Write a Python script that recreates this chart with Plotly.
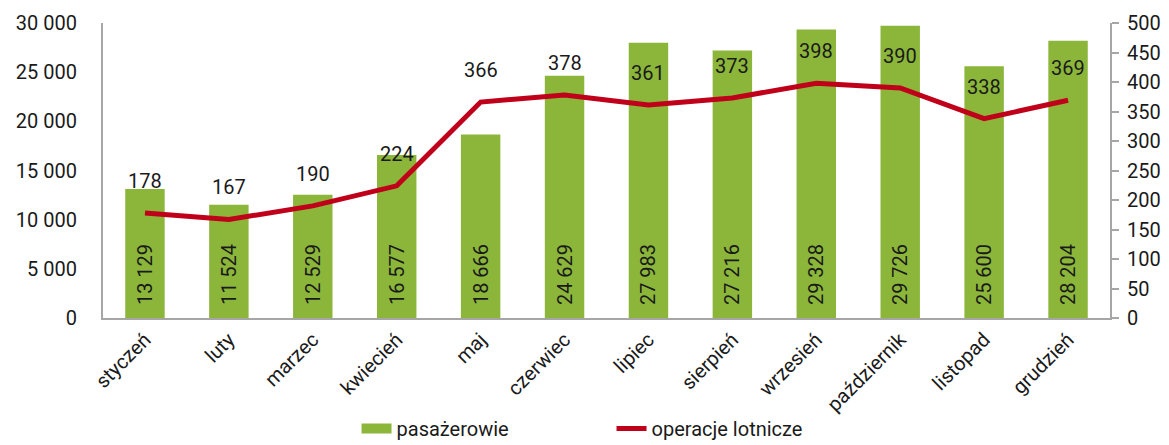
import plotly.graph_objects as go

months = ["styczeń", "luty", "marzec", "kwiecień", "maj", "czerwiec", "lipiec",
          "sierpień", "wrzesień", "październik", "listopad", "grudzień"]
passengers = [13129, 11524, 12529, 16577, 18666, 24629, 27983, 27216, 29328, 29726, 25600, 28204]
operations = [178, 167, 190, 224, 366, 378, 361, 373, 398, 390, 338, 369]

FONT = "Roboto"
TXT = "#1a1a1a"
GREEN = "#8bb63a"
RED = "#c0001b"

fig = go.Figure()
fig.add_trace(go.Bar(
    x=months, y=passengers, name="pasażerowie", showlegend=False,
    marker=dict(color=GREEN, line=dict(width=0)),
    width=0.47,
    texttemplate="\u00a0\u00a0%{y:,}", textposition="inside", insidetextanchor="start",
    textangle=-90, textfont=dict(family=FONT, size=20, color=TXT),
    cliponaxis=False,
))
# legend-only entry with a wide green swatch like the reference
fig.add_trace(go.Scatter(
    x=[None], y=[None], name="pasażerowie", mode="lines",
    line=dict(color=GREEN, width=14), showlegend=True,
))
fig.add_trace(go.Scatter(
    x=months, y=operations, name="operacje lotnicze", yaxis="y2",
    mode="lines", line=dict(color=RED, width=5),
))

for m, v in zip(months, operations):
    fig.add_annotation(x=m, y=v, xref="x", yref="y2", text=str(v), showarrow=False,
                       yshift=32, font=dict(family=FONT, size=20, color=TXT))

# page body has an 8px margin, so the figure is sized to end at the window edge
fig.update_layout(
    width=1161, height=437,
    margin=dict(l=95, r=59, t=15, b=127, autoexpand=False),
    plot_bgcolor="white", paper_bgcolor="white",
    separators=", ",
    font=dict(family=FONT, size=20, color=TXT),
    showlegend=True,
    legend=dict(orientation="h", x=0.505, xanchor="center", yref="container",
                y=0.038, yanchor="middle", bgcolor="rgba(0,0,0,0)",
                font=dict(family=FONT, size=20, color=TXT),
                entrywidth=210, entrywidthmode="pixels",
                traceorder="normal"),
    bargap=0.5,
    xaxis=dict(showline=True, linecolor="#a6a6a6", linewidth=2, tickangle=-45,
               tickfont=dict(family=FONT, size=20, color=TXT), showgrid=False,
               ticks="", automargin=False),
    yaxis=dict(range=[0, 30000], dtick=5000, tickformat=",", showline=True,
               linecolor="#a6a6a6", linewidth=2, showgrid=False, zeroline=False,
               ticklabelstandoff=20, automargin=False,
               tickfont=dict(family=FONT, size=20, color=TXT)),
    yaxis2=dict(range=[0, 500], dtick=50, overlaying="y", side="right", showline=True,
                linecolor="#a6a6a6", linewidth=2, showgrid=False, zeroline=False,
                ticks="outside", ticklen=7, tickcolor="#a6a6a6", tickwidth=2,
                ticklabelstandoff=4, automargin=False,
                tickfont=dict(family=FONT, size=20, color=TXT)),
)

fig.write_html("out.html")
